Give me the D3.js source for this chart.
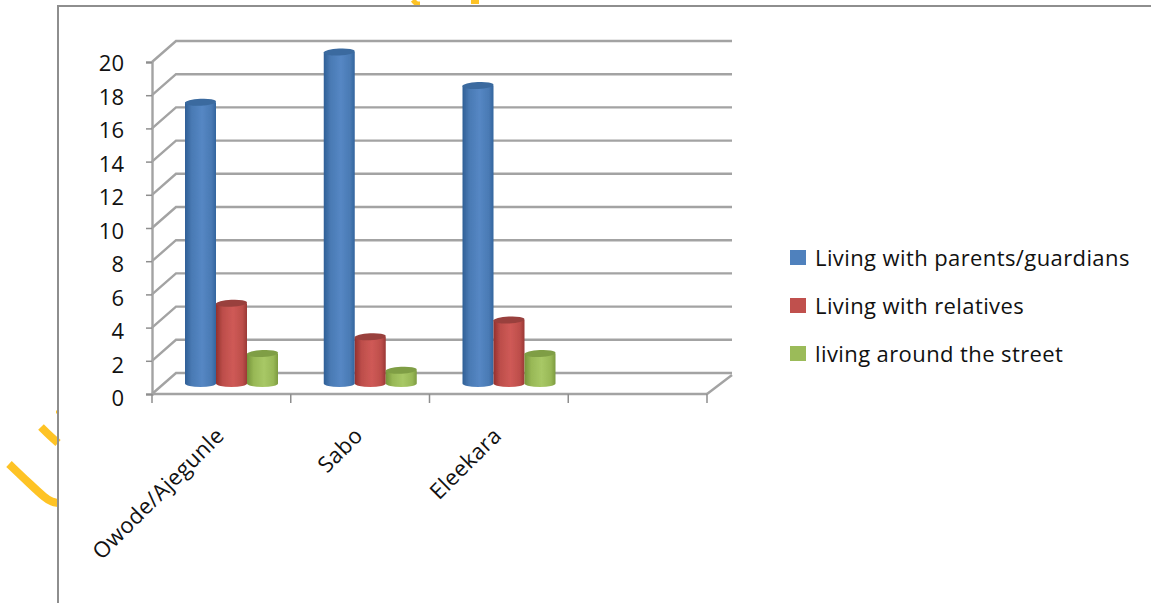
<!DOCTYPE html>
<html><head><meta charset="utf-8">
<script src="https://cdn.jsdelivr.net/npm/d3@7"></script>
<style>html,body{margin:0;padding:0;background:#fff}svg{display:block}text{font-family:"Open Sans",sans-serif;fill:#111}</style>
</head><body><div id="c"></div>
<script>
const categories = ["Owode/Ajegunle","Sabo","Eleekara",""];
const seriesNames = ["Living with parents/guardians","Living with relatives","living around the street"];
const parents = [17,20,18];
const relatives = [5,3,4];
const street = [2,1,2];
const seriesValues = [parents,relatives,street];
const colors = [["#2f5f96","#4a7ab4","#5587c4","#33659e"],["#93302d","#bd4e4b","#cf5a56","#9a3835"],["#76943a","#98b856","#a8c866","#7d9b40"]];
const topColors = ["#3a6a9f","#99403d","#7f9e45"];
const legendColors = ["#4f81bd","#c0504d","#9bbb59"];
const yTicks = d3.range(0,21,2);

const W=1151,H=603, depthX=24, depthY=19;
const svg=d3.select("#c").append("svg").attr("width",W).attr("height",H);
const defs=svg.append("defs");
defs.append("filter").attr("id","soft").append("feGaussianBlur").attr("stdDeviation",0.7);
colors.forEach((c,i)=>{
  const g=defs.append("linearGradient").attr("id","g"+i);
  [[0,c[0]],[.22,c[1]],[.55,c[2]],[.85,c[1]],[1,c[3]]].forEach(s=>g.append("stop").attr("offset",s[0]).attr("stop-color",s[1]));
});

// watermark fragments
const wm=svg.append("g").attr("fill","none").attr("stroke","#fec325").attr("stroke-width",8);
const wmLine=d3.line().curve(d3.curveBasis);
wm.append("path").attr("d",wmLine([[9,464],[30,484],[45,498],[52,502],[58,503]]));
wm.append("path").attr("d",wmLine([[41,427],[50,436],[58,443]]));
wm.append("path").attr("d",wmLine([[56,412],[58,412]])).attr("stroke-width",3);
wm.append("path").attr("d",wmLine([[413,0],[416,4],[420,4]])).attr("stroke-width",5);
wm.append("path").attr("d",wmLine([[475,0],[475,4]])).attr("stroke-width",8);

// chart frame
const frame=svg.append("g").attr("stroke","#8e8e8e").attr("stroke-width",2).attr("fill","none");
frame.append("path").attr("d",`M58,${H}V6H${W}`);

const y=d3.scaleLinear().domain([0,20]).range([394,62]);
const yLabel=d3.scaleLinear().domain([0,20]).range([398,63]);
const x=d3.scaleBand().domain(categories).range([152,707]);
const yBar=d3.scaleLinear().domain([0,20]).range([387,52]);
const inner=d3.scaleBand().domain(d3.range(3)).range([33,126]);

// grid and walls
const grid=svg.append("g").attr("filter","url(#soft)").attr("fill","none").attr("stroke","#a3a3a3").attr("stroke-width",2.4);
yTicks.forEach(t=>{
  grid.append("path").attr("d",`M${x.range()[0]},${y(t)}L${x.range()[0]+depthX},${y(t)-depthY-2}H732`);
});
grid.append("path").attr("d",`M${x.range()[1]},${y(0)}L732,${y(0)-depthY}`);
grid.append("path").attr("d",`M152,${y(0)}H${x.range()[1]}`);

// axes
const ax=svg.append("g").attr("transform","translate(152,0)").call(d3.axisLeft(y).tickValues(yTicks).tickSize(6).tickPadding(3));
ax.select(".domain").attr("stroke","#a3a3a3").attr("stroke-width",2.4).attr("filter","url(#soft)");
ax.selectAll("line").attr("stroke","#8e8e8e").attr("stroke-width",1.5);
ax.selectAll("text").attr("font-size",22).attr("dy","0.36em")
  .attr("y",d=>yLabel(d)-y(d)).attr("x",-28);

const tickX=categories.map(c=>x(c)).concat([x.range()[1]]);
const xAxis=svg.append("g");
xAxis.selectAll("line").data(tickX).join("line")
 .attr("x1",d=>d).attr("x2",d=>d).attr("y1",y(0)).attr("y2",y(0)+9).attr("stroke","#8e8e8e").attr("stroke-width",1.5);
xAxis.selectAll("text").data(categories).join("text")
 .attr("text-anchor","end").attr("font-size",22).attr("letter-spacing",0.35)
 .attr("transform",d=>`translate(${x(d)+x.bandwidth()/2+4},${y(0)+43}) rotate(-45)`)
 .text(d=>d);

// bars
const rTop=3.5;
seriesValues.forEach((vals,s)=>{
  const g=svg.append("g").attr("filter","url(#soft)");
  vals.forEach((v,i)=>{
    const cx=x(categories[i])+inner(s)+inner.bandwidth()/2, r=inner.bandwidth()/2, top=yBar(v), bot=yBar(0);
    g.append("path").attr("fill",`url(#g${s})`)
      .attr("d",`M${cx-r},${top}V${bot-rTop}A${r},${rTop} 0 0 0 ${cx+r},${bot-rTop}V${top}Z`);
    g.append("ellipse").attr("cx",cx).attr("cy",top).attr("rx",r).attr("ry",rTop).attr("fill",topColors[s]).attr("transform",`rotate(-3 ${cx} ${top})`);
  });
});

// legend
const ly=d3.scalePoint().domain(seriesNames).range([258,354]);
const lg=svg.append("g");
seriesNames.forEach((n,i)=>{
  lg.append("rect").attr("x",790).attr("y",ly(n)-8).attr("width",16).attr("height",15).attr("fill",legendColors[i]);
  lg.append("text").attr("x",815).attr("y",ly(n)+8).attr("font-size",22).attr("letter-spacing",0.4).text(n);
});
</script></body></html>
